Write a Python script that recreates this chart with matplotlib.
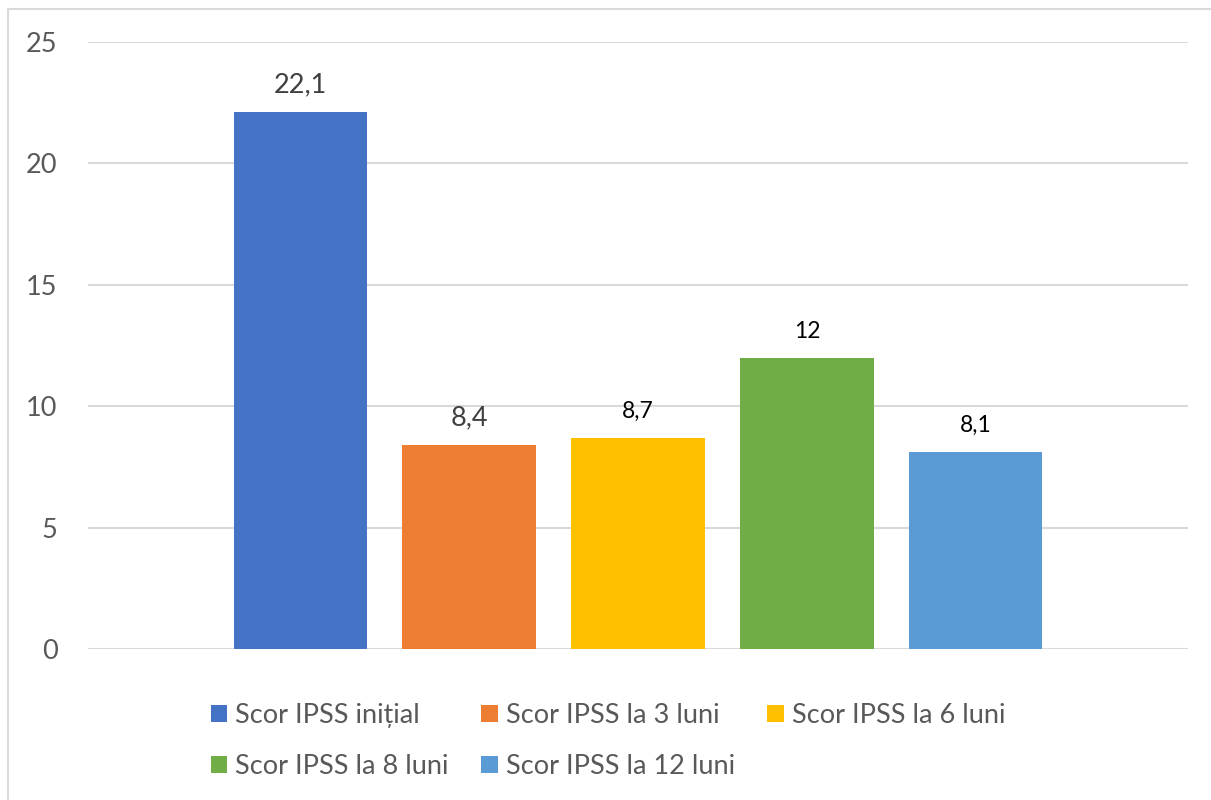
import matplotlib.pyplot as plt
from matplotlib.patches import Rectangle

plt.rcParams['font.family'] = ['Lato', 'DejaVu Sans']

# scoruri IPSS medii pe intervale
series = ['Scor IPSS inițial', 'Scor IPSS la 3 luni', 'Scor IPSS la 6 luni',
          'Scor IPSS la 8 luni', 'Scor IPSS la 12 luni']
scores = [22.1, 8.4, 8.7, 12, 8.1]
colors = ['#4472C4', '#ED7D31', '#FFC000', '#70AD47', '#5B9BD5']
# etichetele primelor doua bare au alt stil (gri, mai mari)
label_colors = ['#404040', '#404040', 'black', 'black', 'black']
label_sizes = [19.5, 19.5, 16.5, 16.5, 16.5]
yticks = [0, 5, 10, 15, 20, 25]

fig = plt.figure(figsize=(12.11, 8), dpi=100)
ax = fig.add_axes([88/1211, 1 - 649/800, 1100/1211, (649 - 42)/800])

handles = []
for i, (name, v, c) in enumerate(zip(series, scores, colors)):
    b = ax.bar(i, v, width=0.79, color=c, label=name, zorder=3)
    handles.append(b)
    txt = f'{v:g}'.replace('.', ',')
    ax.annotate(txt, (i, v), xytext=(0, 14.5), textcoords='offset points',
                ha='center', va='baseline', fontsize=label_sizes[i],
                color=label_colors[i])

ax.set_xlim(-1.257, 5.257)
ax.set_ylim(0, 25)
ax.set_yticks(yticks)
ax.set_xticks([])
ax.grid(axis='y', color='#d9d9d9', linewidth=1.5, zorder=0)
ax.tick_params(axis='y', length=0, pad=22, labelsize=19.5, labelcolor='#595959')
for s in ax.spines.values():
    s.set_visible(False)

# legenda pe doua randuri, ordonata pe linii
order = [0, 3, 1, 4, 2]
fig.legend([handles[k] for k in order], [series[k] for k in order],
           ncol=3, loc='center', bbox_to_anchor=(608/1211, 1 - 741/800),
           frameon=False, fontsize=19.5, labelcolor='#595959',
           handlelength=0.6, handleheight=0.6, handletextpad=0.3,
           columnspacing=1.2, labelspacing=0.95, borderpad=0)

# chenarul graficului
fig.patches.append(Rectangle((7.5/1211, -0.05), 1.2, 1.05 - 9/800,
                             transform=fig.transFigure, fill=False,
                             edgecolor='#d9d9d9', linewidth=1.5))

fig.savefig('out.png', dpi=100)
